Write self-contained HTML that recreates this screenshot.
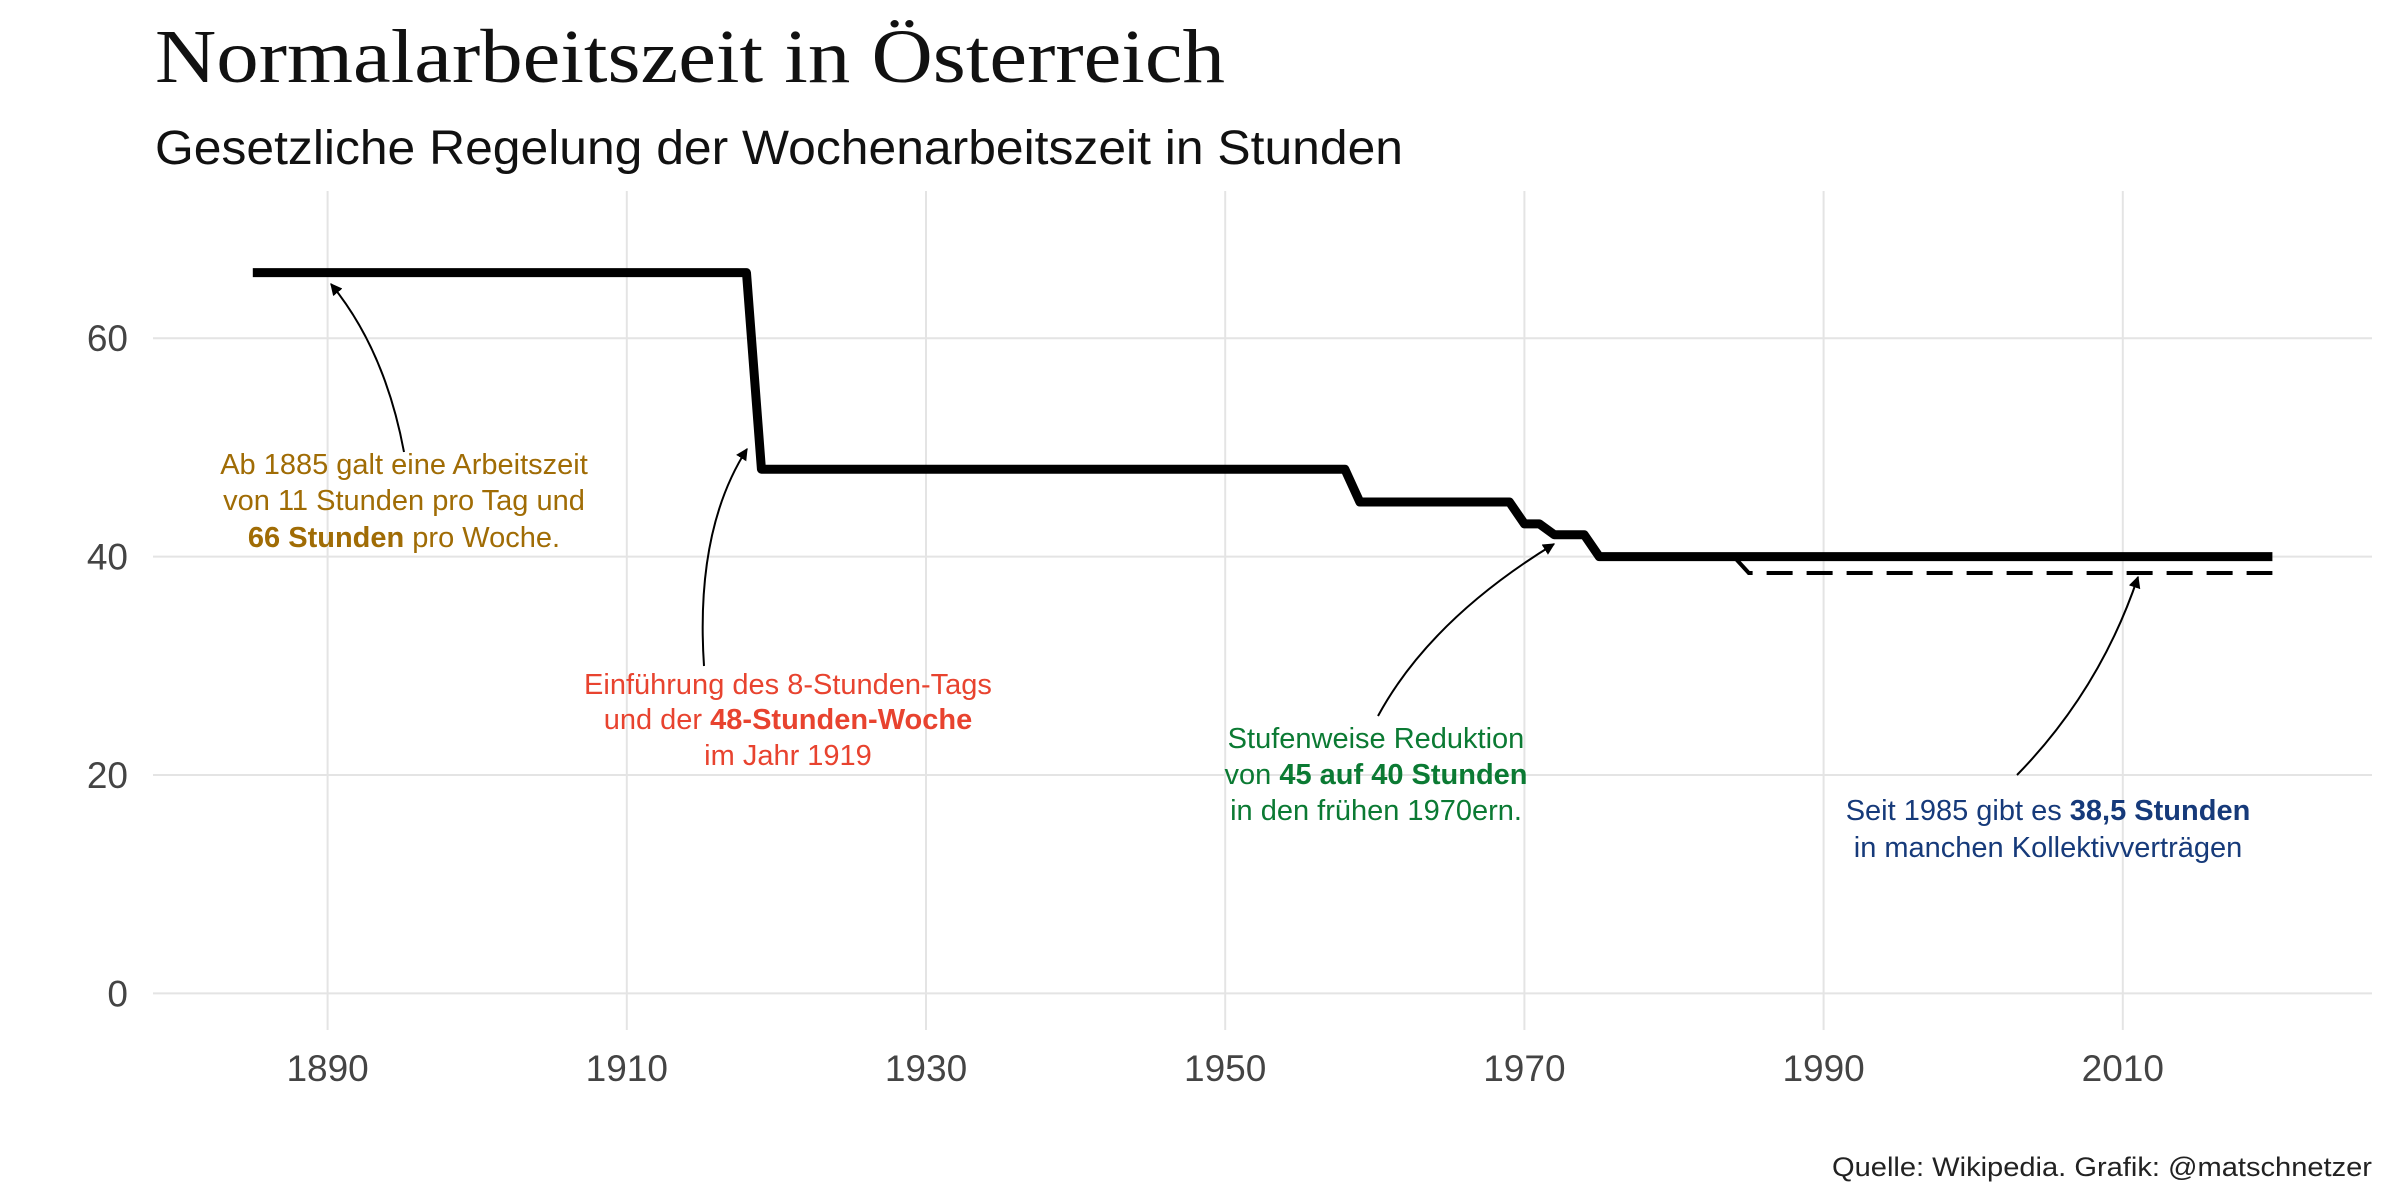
<!DOCTYPE html>
<html><head><meta charset="utf-8"><style>
body{margin:0;background:#fff;}
svg{display:block;}
</style></head><body>
<svg id="chart" width="2400" height="1200" xmlns="http://www.w3.org/2000/svg">
<defs><marker id="ah" viewBox="0 0 10 10" refX="9" refY="5" markerWidth="6" markerHeight="6" orient="auto"><path d="M0,0 L10,5 L0,10 z" fill="#000"/></marker></defs>
<text x="155" y="82" font-family="Liberation Serif, serif" font-size="76" fill="#111" textLength="1070" lengthAdjust="spacingAndGlyphs">Normalarbeitszeit in Österreich</text>
<text x="155" y="164" font-family="Liberation Sans, sans-serif" font-size="48" fill="#111" textLength="1248" lengthAdjust="spacingAndGlyphs">Gesetzliche Regelung der Wochenarbeitszeit in Stunden</text>
<g id="grid"></g><g id="axes"></g><g id="series"></g><g id="ann"></g>
<text x="2372" y="1176" text-anchor="end" font-family="Liberation Sans, sans-serif" font-size="27" fill="#222" textLength="540" lengthAdjust="spacingAndGlyphs">Quelle: Wikipedia. Grafik: @matschnetzer</text>
</svg>
<script>
const years = [1885,1918,1919,1958,1959,1969,1970,1971,1972,1974,1975,2020];
const hours = [66,66,48,48,45,45,43,43,42,42,40,40];
const kvYears = [1984,1985,2020];
const kvHours = [40,38.5,38.5];
const xTicks = [1890,1910,1930,1950,1970,1990,2010];
const yTicks = [0,20,40,60];
const NS="http://www.w3.org/2000/svg";
const X = y => 327.6 + (y-1890)*14.96;
const Y = v => 993.4 - v*10.92;
function mk(tag, attrs, parent){const e=document.createElementNS(NS,tag);for(const k in attrs)e.setAttribute(k,attrs[k]);parent.appendChild(e);return e;}
const grid=document.getElementById('grid'), axes=document.getElementById('axes'), ser=document.getElementById('series'), ann=document.getElementById('ann');
yTicks.forEach(t=>{
  const l=mk('line',{x1:153,x2:2372,y1:Y(t),y2:Y(t),stroke:'#e4e4e4','stroke-width':2},grid);
  
  
  const tx=mk('text',{x:128,y:Y(t)+13,'text-anchor':'end','font-family':'Liberation Sans, sans-serif','font-size':37,fill:'#444'},axes);
  tx.textContent=t;
  
  
});
xTicks.forEach(t=>{
  const l=mk('line',{x1:X(t),x2:X(t),y1:191,y2:1030,stroke:'#e4e4e4','stroke-width':2},grid);
  
  
  const tx=mk('text',{x:X(t),y:1081,'text-anchor':'middle','font-family':'Liberation Sans, sans-serif','font-size':37,fill:'#444'},axes);
  tx.textContent=t;
  
  
});
const main=mk('polyline',{points:years.map((y,i)=>X(y)+','+Y(hours[i])).join(' '),fill:'none',stroke:'#000','stroke-width':9,'stroke-linejoin':'round'},ser);


const kv=mk('polyline',{points:kvYears.map((y,i)=>X(y)+','+Y(kvHours[i])).join(' '),fill:'none',stroke:'#000','stroke-width':4,'stroke-dasharray':'26,14'},ser);


function arrow(d,name){const p=mk('path',{d:d,fill:'none',stroke:'#000','stroke-width':2,'marker-end':'url(#ah)'},ann);
  
  }
arrow('M404,452 Q385,350 331,284','arrow-1885');
arrow('M704,666 Q695,530 747,449','arrow-1919');
arrow('M1378,716 Q1430,620 1554,544','arrow-1970s');
arrow('M2017,775 Q2100,690 2138,577','arrow-1985');
function label(cx,ys,lines,color,name){
  const t=mk('text',{'text-anchor':'middle','font-family':'Liberation Sans, sans-serif','font-size':29,fill:color},ann);
  
  
  lines.forEach((ln,i)=>{const ts=mk('tspan',{x:cx,y:ys[i]},t);
    ln.forEach(seg=>{const s=mk('tspan',seg[1]?{'font-weight':'bold'}:{},ts);s.textContent=seg[0];});});
}
label(404,[474,510,547],[[['Ab 1885 galt eine Arbeitszeit']],[['von 11 Stunden pro Tag und']],[['66 Stunden',1],[' pro Woche.']]],'#a06c05','annotation-1885');
label(788,[694,729,765],[[['Einführung des 8-Stunden-Tags']],[['und der '],['48-Stunden-Woche',1]],[['im Jahr 1919']]],'#e8432f','annotation-1919');
label(1376,[748,784,820],[[['Stufenweise Reduktion']],[['von '],['45 auf 40 Stunden',1]],[['in den frühen 1970ern.']]],'#0b7a33','annotation-1970s');
label(2048,[820,857],[[['Seit 1985 gibt es '],['38,5 Stunden',1]],[['in manchen Kollektivverträgen']]],'#163a7a','annotation-1985');
</script>
</body></html>
